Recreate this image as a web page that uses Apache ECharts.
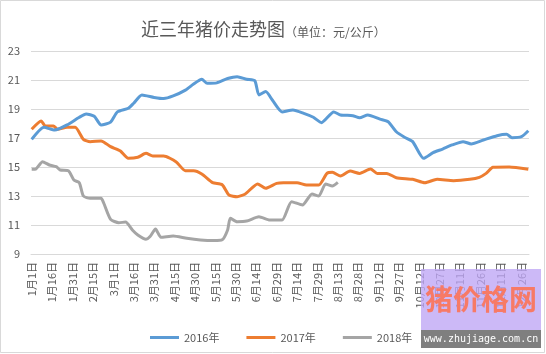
<!DOCTYPE html>
<html>
<head>
<meta charset="utf-8">
<script src="https://cdn.jsdelivr.net/npm/echarts@6/dist/echarts.min.js"></script>
<style>html,body{margin:0;padding:0;background:#fff}#c{width:546px;height:354px}</style>
</head>
<body>
<div id="c"></div>
<script>
// Category axis: every day of (leap) year 2016, labelled every 15 days
const monthDays = [31,29,31,30,31,30,31,31,30,31,30,31];
const categories = [];
monthDays.forEach((n, m) => { for (let d = 1; d <= n; d++) categories.push((m + 1) + '月' + d + '日'); });

const yTicks = [9, 11, 13, 15, 17, 19, 21, 23];
const seriesNames = ['2016年', '2017年', '2018年'];

// 2016
const days2016 = [0,9,17,26,35,40,46,51,58,63,71,75,81,90,97,104,113,119,125,129,136,144,151,158,164,167,172,177,184,192,200,207,213,222,227,236,241,247,256,262,268,274,280,288,295,302,309,317,323,332,342,349,353,360,365];
const vals2016 = [16.9,17.74,17.55,17.9,18.43,18.66,18.5,17.9,18.1,18.8,19.05,19.4,19.97,19.8,19.72,19.9,20.3,20.72,21.05,20.77,20.8,21.1,21.23,21.05,20.95,19.97,20.2,19.6,18.8,18.93,18.7,18.43,18.06,18.8,18.59,18.54,18.4,18.59,18.3,18.12,17.43,17.05,16.75,15.6,15.99,16.24,16.52,16.75,16.59,16.86,17.16,17.26,17.02,17.09,17.5];
// 2017
const days2017 = [0,7,10,16,19,26,32,38,43,51,58,65,71,78,84,89,97,106,113,119,125,133,140,145,151,157,166,172,180,185,195,202,211,217,221,227,234,241,249,254,261,268,280,289,298,310,322,329,334,339,351,365];
const vals2017 = [17.6,18.17,17.83,17.83,17.6,17.74,17.74,16.91,16.75,16.8,16.4,16.12,15.6,15.67,15.94,15.76,15.76,15.37,14.74,14.74,14.52,13.92,13.78,13.07,12.95,13.14,13.83,13.53,13.87,13.92,13.92,13.76,13.76,14.56,14.63,14.38,14.72,14.56,14.86,14.56,14.56,14.26,14.15,13.92,14.15,14.06,14.15,14.29,14.56,14.98,15.0,14.84];
// 2018
const days2018 = [0,3,8,13,18,21,27,31,35,38,43,51,53,58,64,69,74,78,84,87,91,95,104,114,124,134,140,144,146,151,158,167,175,184,191,199,206,211,216,221,225];
const vals2018 = [14.84,14.86,15.37,15.14,15.02,14.79,14.74,14.1,13.92,13.0,12.84,12.84,12.5,11.39,11.16,11.2,10.66,10.31,10.01,10.2,10.72,10.15,10.24,10.08,9.97,9.93,9.98,10.66,11.46,11.23,11.27,11.57,11.34,11.34,12.61,12.38,13.14,13.0,13.83,13.69,13.94];

const colors = ['#5B9BD5', '#ED7D31', '#A5A5A5'];
const pair = (d, v) => d.map((x, i) => [x, v[i]]);
const seriesData = [pair(days2016, vals2016), pair(days2017, vals2017), pair(days2018, vals2018)];

const FONT = '"Noto Sans CJK SC", "Liberation Sans", sans-serif';
const chart = echarts.init(document.getElementById('c'), null, {renderer: 'canvas'});
chart.setOption({
  animation: false,
  backgroundColor: '#fff',
  title: {
    text: '{a|近三年猪价走势图}{b|（单位：元/公斤）}',
    left: 136, top: 11,
    textStyle: {
      fontWeight: 'normal',
      rich: {
        a: {fontSize: 18, color: '#595959', fontFamily: FONT, fontWeight: 'normal', verticalAlign: 'bottom', lineHeight: 22},
        b: {fontSize: 12, color: '#595959', fontFamily: FONT, fontWeight: 'normal', verticalAlign: 'bottom', lineHeight: 20}
      }
    }
  },
  legend: {
    data: seriesNames,
    left: 145, top: 327,
    itemWidth: 29, itemHeight: 3, itemGap: 27,
    icon: 'rect',
    textStyle: {fontSize: 11, color: '#595959', fontFamily: FONT}
  },
  grid: {left: 31, right: 17, top: 51, bottom: 100, containLabel: false},
  xAxis: {
    type: 'category',
    data: categories,
    boundaryGap: true,
    axisLine: {show: true, lineStyle: {color: '#D9D9D9', width: 1}},
    axisTick: {show: false},
    axisLabel: {interval: 14, rotate: 90, fontSize: 11, color: '#595959', fontFamily: FONT, margin: 8}
  },
  yAxis: {
    type: 'value',
    min: yTicks[0], max: yTicks[yTicks.length - 1], interval: 2,
    axisLine: {show: false}, axisTick: {show: false},
    axisLabel: {fontSize: 11, color: '#595959', fontFamily: FONT, margin: 11},
    splitLine: {lineStyle: {color: '#D9D9D9', width: 1}}
  },
  series: seriesNames.map((n, i) => ({
    name: n, type: 'line', data: seriesData[i],
    showSymbol: false, symbol: 'none', smooth: 0.2,
    lineStyle: {color: colors[i], width: 3}, itemStyle: {color: colors[i]},
    z: 3 - i
  })),
  graphic: [
    {type: 'rect', shape: {x: 0.5, y: 0.5, width: 544, height: 352}, style: {fill: 'none', stroke: '#D9D9D9', lineWidth: 1}, z: 100},
    {type: 'rect', shape: {x: 421, y: 269, width: 120, height: 61}, style: {fill: 'rgba(190,165,245,0.78)'}, z: 101},
    {type: 'text', x: 481, y: 299, style: {text: '猪价格网', fontSize: 28, fontWeight: 'bold', fill: '#F77A66', fontFamily: FONT, align: 'center', verticalAlign: 'middle'}, z: 102},
    {type: 'rect', shape: {x: 421, y: 330, width: 120, height: 18}, style: {fill: '#7F7F7F'}, z: 101},
    {type: 'text', x: 481, y: 339, style: {text: 'www.zhujiage.com.cn', fontSize: 10, fill: '#fff', fontFamily: '"DejaVu Sans Mono", monospace', align: 'center', verticalAlign: 'middle'}, z: 102}
  ]
});
</script>
</body>
</html>
